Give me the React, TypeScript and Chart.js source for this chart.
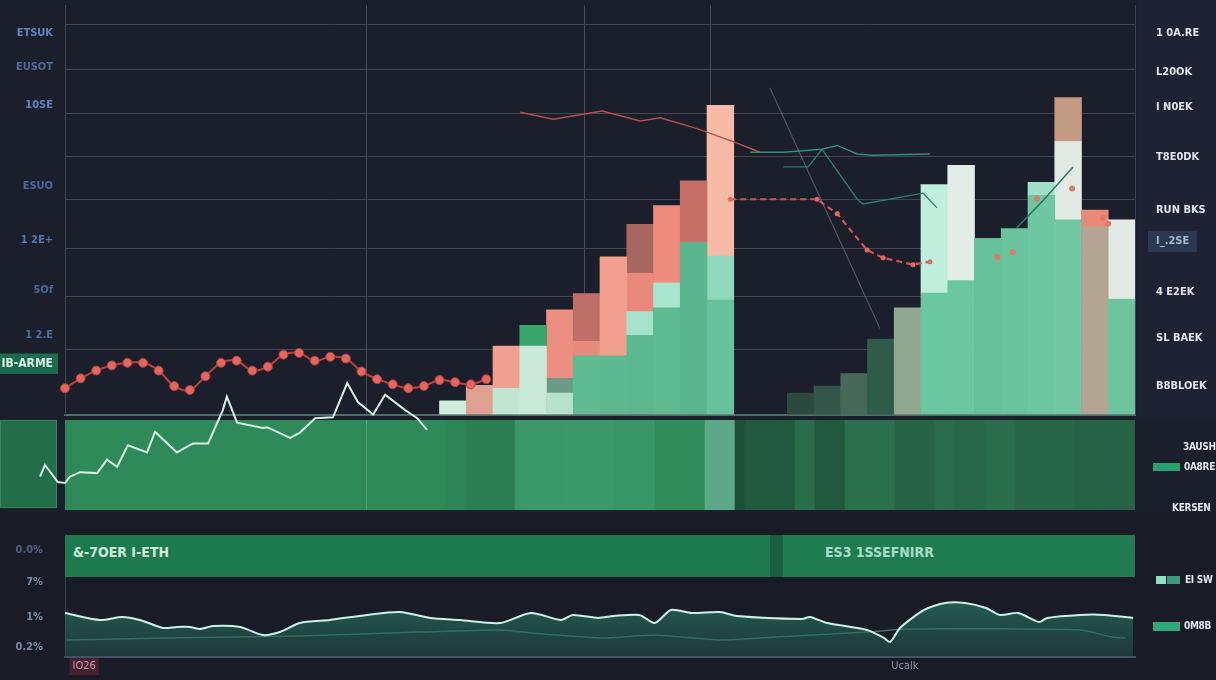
import React, { useEffect, useRef } from "react";
import { Chart, registerables } from "chart.js";
Chart.register(...registerables);

const FONT = "'Liberation Sans Narrow', 'DejaVu Sans Condensed', Roboto, 'DejaVu Sans', sans-serif";
const BG = "#1b1e2b";
const N = null;

// ---------------- top panel: stacked bars over 40 periods ----------------
const periods = Array.from({ length: 40 }, (_, i) => `P${i + 1}`);

const barBase = [N, N, N, N, N, N, N, N, N, N, N, N, N, N,
  0.32, 0.68, 0.61, 1.59, 0.5, 1.36, 1.36, 1.84, 2.48, 4.0, 2.66,
  N, N,
  0.5, 0.66, 0.95, 1.75, 2.48, 2.82, 3.11, 4.09, 4.32, 5.09, 4.52, 4.36, 2.68];
const barMid = [N, N, N, N, N, N, N, N, N, N, N, N, N, N,
  N, N, 0.98, 0.48, 0.34, 0.34, 2.3, 0.55, 0.57, 1.43, 1.02,
  N, N,
  N, N, N, N, N, 2.52, 2.68, N, N, 0.3, 1.82, 0.39, 1.84];
const barUpper = [N, N, N, N, N, N, N, N, N, N, N, N, N, N,
  N, N, N, N, 1.59, 1.11, N, 0.89, 1.8, N, 3.5,
  N, N,
  N, N, N, N, N, N, N, N, N, N, 1.02, N, N];
const barCap = [N, N, N, N, N, N, N, N, N, N, N, N, N, N,
  N, N, N, N, N, N, N, 1.14, N, N, N,
  N, N,
  N, N, N, N, N, N, N, N, N, N, N, N, N];

const baseColors: Record<number, string> = {
  14: "#cdeedd", 15: "#dea192", 16: "#c2e5d2", 17: "#c9e9d7", 18: "#b7e1cd", 19: "#5ebb92",
  20: "#5dba90", 21: "#5cb88f", 22: "#5dba91", 23: "#5ab48d", 24: "#67c19b",
  27: "#2b493f", 28: "#34564a", 29: "#47695a", 30: "#2e5c49", 31: "#92a78f", 32: "#6bc7a1",
  33: "#6cc6a0", 34: "#66c19a", 35: "#69c49e", 36: "#6dc7a1", 37: "#71c8a3", 38: "#b3a494", 39: "#6dc5a0",
};
const midColors: Record<number, string> = {
  16: "#f0a090", 17: "#3ba66b", 18: "#6b9a88", 19: "#e58b7d", 20: "#f29f8e", 21: "#a6e3cd",
  22: "#a8e5cf", 23: "#c66f67", 24: "#8fd8bd", 32: "#c0eedd", 33: "#e3ede8", 36: "#a0e0c8",
  37: "#e2eae6", 38: "#e88a78", 39: "#e4ebe7",
};
const upperColors: Record<number, string> = {
  18: "#ec8e80", 19: "#bf6f68", 21: "#e8897b", 22: "#ee8c7e", 24: "#f6baa6", 37: "#c49a82",
};
const capColors: Record<number, string> = { 21: "#a76660" };

// lines in the top panel (time axis 0..240)
const redDotStart = 0;
const redDotStep = 3.5;
const redDots = [0.61, 0.84, 1.02, 1.14, 1.2, 1.2, 1.02, 0.66, 0.57, 0.89, 1.2, 1.25, 1.02, 1.11,
  1.39, 1.43, 1.25, 1.34, 1.3, 1.0, 0.82, 0.7, 0.61, 0.66, 0.8, 0.75, 0.7, 0.82];

const topRedTimes = [102.1, 109.5, 120.5, 129.0, 133.5, 141.8, 150.3, 155.9];
const topRedValues = [7.02, 6.86, 7.05, 6.82, 6.89, 6.64, 6.32, 6.09];

const tealTimes = [153.7, 161.1, 169.8, 173.2, 177.7, 181.2, 194.0];
const tealValues = [6.09, 6.09, 6.16, 6.25, 6.05, 6.02, 6.05];

const tealBranchTimes = [161.1, 166.7, 169.8, 177.7, 179.0, 192.5, 195.6];
const tealBranchValues = [5.75, 5.75, 6.16, 5.0, 4.89, 5.14, 4.8];

const dashTimes = [149.2, 168.7, 173.2, 179.9, 183.5, 190.2, 194.0];
const dashValues = [5.0, 5.0, 4.66, 3.82, 3.64, 3.48, 3.55];

const diagTimes = [158.1, 182.8];
const diagValues = [7.59, 2.0];

const rightLineTimes = [213.5, 219.2, 223.2, 226.1];
const rightLineValues = [4.34, 4.95, 5.41, 5.75];

const rightMarkTimes = [209.1, 212.6, 218.0, 225.9, 232.8, 234.0];
const rightMarkValues = [3.66, 3.77, 5.02, 5.25, 4.57, 4.43];

// axis text of the top panel
const leftTickValues = [8.86, 8.07, 7.18, 5.3, 4.05, 2.89, 1.84, 1.18];
const leftTickLabels = ["ETSUK", "EUSOT", "10SE", "ESUO", "1 2E+", "5Of", "1 2.E", "IB-ARME"];
const rightTickValues = [8.86, 7.95, 7.14, 5.98, 4.75, 4.02, 2.84, 1.77, 0.66];
const rightTickLabels = ["1 0A.RE", "L20OK", "I N0EK", "T8E0DK", "RUN BKS", "I_.2SE", "4 E2EK", "SL BAEK", "B8BLOEK"];
const hGridValues = [9.05, 8.02, 7.0, 6.0, 5.0, 3.86, 2.73, 1.5];
const vGridTimes = [67.7, 116.6, 144.7];

// ---------------- middle: heat strip + zig-zag ----------------
const bandLevels = [
  0.5, 0.5, 0.5, 0.5, 0.5, 0.5, 0.5, 0.5, 0.5, 0.5,
  0.5, 0.5, 0.5, 0.5, 0.5, 0.5, 0.5, 0.5, 0.5, 0.5,
  0.5, 0.5, 0.5, 0.5, 0.5, 0.5, 0.5, 0.5, 0.5, 0.5,
  0.5, 0.5, 0.5, 0.5, 0.5, 0.5, 0.5, 0.5, 0.46, 0.46,
  0.4, 0.4, 0.4, 0.4, 0.4, 0.64, 0.64, 0.64, 0.64, 0.64,
  0.66, 0.66, 0.66, 0.66, 0.66, 0.62, 0.62, 0.62, 0.62, 0.52,
  0.52, 0.52, 0.52, 0.52, 1, 1, 1, 0, 0.08, 0.08,
  0.08, 0.08, 0.08, 0.26, 0.26, 0.08, 0.08, 0.08, 0.28, 0.28,
  0.28, 0.28, 0.28, 0.18, 0.18, 0.18, 0.18, 0.24, 0.24, 0.22,
  0.22, 0.22, 0.26, 0.26, 0.26, 0.2, 0.2, 0.2, 0.2, 0.2,
  0.2, 0.16, 0.16, 0.16, 0.16, 0.16, 0.16,
];
const bandLabels = bandLevels.map((_, i) => `S${i + 1}`);
const BAND_HEIGHT = 1;

const zigTimes = [-5.6, -4.5, -1.6, 0, 1.1, 3.4, 7.2, 9.4, 11.7, 14.1, 18.4, 20.2, 25.1, 28.7, 32.1,
  35.4, 36.3, 38.6, 44.4, 45.3, 50.5, 52.7, 56.1, 60.1, 63.3, 65.7, 69.1, 71.8, 76.3, 79.0, 81.2];
const zigValues = [0.37, 0.5, 0.31, 0.3, 0.37, 0.42, 0.41, 0.56, 0.48, 0.72, 0.64, 0.87, 0.64, 0.74, 0.74,
  1.11, 1.26, 0.97, 0.91, 0.92, 0.8, 0.86, 1.02, 1.03, 1.41, 1.2, 1.06, 1.28, 1.11, 1.02, 0.89];

// ---------------- bottom: area panel ----------------
const areaTimes = [0, 7.9, 12.8, 16.8, 22, 25.1, 28, 30.3, 33.2, 39.3, 44.4, 48.2, 52.7, 59.4, 67.7, 75.1,
  81.9, 88.6, 97.6, 104.5, 111.3, 113.9, 119.6, 123.1, 128.8, 132.3, 135.9, 140.6, 146.9, 150.7, 165.3,
  167.1, 170.9, 179.9, 183.7, 185.1, 187.3, 192.7, 197.4, 201.9, 206.6, 209.7, 213.8, 218.5, 220.3,
  227.7, 233.1, 239.6];
const areaValues = [55.7, 46.8, 50.6, 46.8, 36.7, 38, 38, 35.4, 39.2, 38, 27.8, 31.6, 43, 46.8, 53.2, 57,
  49.4, 46.8, 43, 55.7, 46.8, 53.2, 49.4, 51.9, 53.2, 43, 59.5, 55.7, 57, 51.9, 48.1,
  50.6, 43, 34.2, 24.1, 19, 36.7, 59.5, 68.4, 68.4, 62, 53.2, 55.7, 44.3, 49.4,
  53.2, 53.2, 49.4];
const faintTimes = [0.4, 22.9, 52.7, 79.6, 97.6, 104.5, 120.5, 132.3, 146.9, 159.7, 179.9, 189.1, 227.7, 234.8, 237.8];
const faintValues = [21.5, 24, 26.6, 31.6, 34.2, 30.4, 24, 27.8, 21.5, 25.3, 31.6, 35.4, 34.2, 25.3, 24];

const bottomTickValues = [135.4, 94.9, 50.6, 12.7];
const bottomTickLabels = ["0.0%", "7%", "1%", "0.2%"];
const timeTickValues = [4.3, 188.4];
const timeTickLabels = ["IO26", "Ucalk"];

const TIME_MIN = 0;
const TIME_MAX = 240;

// ---------------- helpers ----------------
const pts = (times: number[], values: number[]) => times.map((t, i) => ({ x: t, y: values[i] }));
const evenPts = (start: number, step: number, values: number[]) =>
  values.map((v, i) => ({ x: start + i * step, y: v }));
const setTicks = (values: number[]) => (s: any) => {
  s.ticks = values.map((value) => ({ value }));
};
const timeRange = (s: any) => {
  s.min = TIME_MIN;
  s.max = TIME_MAX;
};
const fixAxis = (size: number, horizontal = false) => (s: any) => {
  if (horizontal) s.height = size;
  else s.width = size;
  s.paddingTop = 0;
  s.paddingBottom = 0;
  s.paddingLeft = 0;
  s.paddingRight = 0;
};
const shadeStops: [number, number[]][] = [
  [0, [28, 80, 56]], [0.2, [40, 102, 72]], [0.5, [46, 139, 89]], [0.65, [58, 152, 106]], [1, [92, 168, 136]],
];
function shade(v: number) {
  for (let i = 1; i < shadeStops.length; i++) {
    const [b, cb] = shadeStops[i];
    const [a, ca] = shadeStops[i - 1];
    if (v <= b) {
      const f = (v - a) / (b - a);
      const c = ca.map((x, k) => Math.round(x + (cb[k] - x) * f));
      return `rgb(${c[0]},${c[1]},${c[2]})`;
    }
  }
  return "rgb(92,168,136)";
}
const font = (size: number, weight: any = "bold") => ({ family: FONT, size, weight });

export default function App() {
  const aRef = useRef<HTMLCanvasElement>(null);
  const bRef = useRef<HTMLCanvasElement>(null);
  const cRef = useRef<HTMLCanvasElement>(null);

  useEffect(() => {
    const barSeg = (label: string, data: any[], colors: Record<number, string>) => ({
      type: "bar",
      label,
      data,
      xAxisID: "x",
      yAxisID: "yb",
      backgroundColor: (c: any) => colors[c.dataIndex] || "rgba(0,0,0,0)",
      borderWidth: 0,
      barPercentage: 1,
      categoryPercentage: 1,
      grouped: false,
      order: 10,
    });
    const line = (data: any[], color: string, extra: any = {}) => ({
      type: "line",
      data,
      xAxisID: "xt",
      yAxisID: "y",
      borderColor: color,
      borderWidth: 1.5,
      pointRadius: 0,
      tension: 0,
      order: 1,
      ...extra,
    });

    const chartA = new Chart(aRef.current!, {
      type: "bar",
      data: {
        labels: periods,
        datasets: [
          barSeg("base", barBase, baseColors),
          barSeg("mid", barMid, midColors),
          barSeg("upper", barUpper, upperColors),
          barSeg("cap", barCap, capColors),
          line(pts(diagTimes, diagValues), "rgba(120,130,145,0.55)", { borderWidth: 1.2 }),
          line(pts(topRedTimes, topRedValues), "#b5504b"),
          line(pts(tealTimes, tealValues), "#2f8f78"),
          line(pts(tealBranchTimes, tealBranchValues), "#2a7f6c", { borderWidth: 1.3 }),
          line(pts(dashTimes, dashValues), "#d0534f", {
            borderWidth: 2.2, borderDash: [6, 4], pointRadius: 2.5,
            pointBackgroundColor: "#e06a62", pointBorderWidth: 0,
          }),
          line(pts(rightLineTimes, rightLineValues), "#2d7a5f"),
          line(pts(rightMarkTimes, rightMarkValues), "#e07a68", {
            showLine: false, pointRadius: 3, pointBackgroundColor: "#e07a68", pointBorderWidth: 0,
          }),
          line(evenPts(redDotStart, redDotStep, redDots), "#b8443f", {
            borderWidth: 2, tension: 0.35, pointRadius: 4.5,
            pointBackgroundColor: "#e2675f", pointBorderColor: "#b0413c", pointBorderWidth: 1,
          }),
        ],
      } as any,
      options: {
        responsive: false,
        animation: false,
        devicePixelRatio: 1,
        layout: { padding: { top: 0, bottom: 2, left: 0, right: 0 } },
        plugins: { legend: { display: false }, tooltip: { enabled: false } },
        scales: {
          x: { type: "category", display: false, stacked: true },
          xt: {
            type: "linear", position: "bottom", offset: false, bounds: "data",
            afterDataLimits: timeRange,
            afterBuildTicks: setTicks(vGridTimes), afterFit: fixAxis(0, true),
            ticks: { display: false },
            grid: { offset: false, color: "rgba(165,175,195,0.32)", drawTicks: false, tickLength: 0 },
            border: { display: true, color: "#4f6d64", width: 2 },
          },
          yb: { type: "linear", display: false, stacked: true, min: 0, max: 9.5 },
          yg: {
            type: "linear", position: "left", min: 0, max: 9.5,
            afterBuildTicks: setTicks(hGridValues), afterFit: fixAxis(0),
            ticks: { display: false },
            grid: { color: "#414657", drawTicks: false, tickLength: 0 },
            border: { display: false },
          },
          y: {
            type: "linear", position: "left", min: 0, max: 9.5,
            afterBuildTicks: setTicks(leftTickValues), afterFit: fixAxis(65),
            grid: { display: false, drawTicks: false, tickLength: 0 },
            border: { display: true, color: "#3b4052" },
            ticks: {
              autoSkip: false,
              padding: 12,
              callback: (_v: any, i: number) => leftTickLabels[i],
              color: (c: any) =>
                ["#5d87c2", "#4a6b98", "#5a86c4", "#46699a", "#4f78ad", "#46699a", "#4a6fa3", "#d9f0e4"][c.index],
              font: (c: any) => font(c.index === 7 ? 12 : 11),
              showLabelBackdrop: (c: any) => c.index === 7,
              backdropColor: "#1b6b4e",
              backdropPadding: { x: 5, y: 3 },
            },
          },
          yr: {
            type: "linear", position: "right", min: 0, max: 9.5,
            afterBuildTicks: setTicks(rightTickValues), afterFit: fixAxis(81),
            grid: { display: false, drawTicks: false, tickLength: 0 },
            border: { display: true, color: "#3b4052" },
            ticks: {
              autoSkip: false,
              padding: 21,
              callback: (_v: any, i: number) => rightTickLabels[i],
              color: (c: any) => (c.index === 5 ? "#aab6cc" : "#e1e6ee"),
              font: font(11),
              showLabelBackdrop: (c: any) => c.index === 5,
              backdropColor: "#2a3850",
              backdropPadding: { x: 8, y: 4 },
            },
          },
        },
      } as any,
    });

    const chartB = new Chart(bRef.current!, {
      type: "bar",
      data: {
        labels: bandLabels,
        datasets: [
          {
            type: "bar",
            data: bandLevels.map(() => BAND_HEIGHT),
            xAxisID: "xb",
            yAxisID: "y",
            backgroundColor: (c: any) => shade(bandLevels[c.dataIndex]),
            borderWidth: 0,
            barPercentage: 1,
            categoryPercentage: 1,
            grouped: false,
            order: 5,
          },
          {
            type: "line",
            data: pts(zigTimes, zigValues),
            xAxisID: "xt",
            yAxisID: "y",
            borderColor: "#d6f1e4",
            borderWidth: 2,
            pointRadius: 0,
            tension: 0,
            clip: false,
            order: 1,
          },
        ],
      } as any,
      options: {
        responsive: false,
        animation: false,
        devicePixelRatio: 1,
        layout: { padding: { top: 50, bottom: 0, left: 65, right: 81 } },
        plugins: { legend: { display: false }, tooltip: { enabled: false } },
        scales: {
          xb: { type: "category", display: false },
          xt: {
            type: "linear", position: "bottom", offset: false, bounds: "data",
            afterDataLimits: timeRange,
            afterBuildTicks: setTicks([vGridTimes[0]]), afterFit: fixAxis(0, true),
            ticks: { display: false },
            grid: { offset: false, color: "rgba(200,235,220,0.22)", drawTicks: false, tickLength: 0, z: 1 },
            border: { display: false },
          },
          y: { type: "linear", display: false, min: 0, max: 1 },
        },
      } as any,
    });

    const chartC = new Chart(cRef.current!, {
      type: "line",
      data: {
        datasets: [
          {
            data: pts(areaTimes, areaValues),
            borderColor: "#cdf0e4",
            borderWidth: 2,
            pointRadius: 0,
            tension: 0.25,
            fill: "origin",
            backgroundColor: (ctx: any) => {
              const { chart } = ctx;
              const area = chart.chartArea;
              if (!area) return "rgba(38,110,90,0.5)";
              const g = chart.ctx.createLinearGradient(0, area.top + 55, 0, area.bottom);
              g.addColorStop(0, "rgba(40,128,102,0.7)");
              g.addColorStop(1, "rgba(40,92,84,0.45)");
              return g;
            },
          },
          {
            data: pts(faintTimes, faintValues),
            borderColor: "rgba(72,150,108,0.75)",
            borderWidth: 1.5,
            pointRadius: 0,
            tension: 0.2,
            fill: false,
          },
        ],
      } as any,
      options: {
        responsive: false,
        animation: false,
        devicePixelRatio: 1,
        layout: { padding: { top: 10, bottom: 0, left: 0, right: 81 } },
        plugins: { legend: { display: false }, tooltip: { enabled: false } },
        scales: {
          x: {
            type: "linear", position: "bottom", min: TIME_MIN, max: TIME_MAX, offset: false,
            afterBuildTicks: setTicks(timeTickValues), afterFit: fixAxis(23, true),
            grid: { display: false, drawTicks: false, tickLength: 0 },
            border: { display: true, color: "#4a4f6a", width: 2 },
            ticks: {
              autoSkip: false,
              maxRotation: 0,
              padding: 3,
              callback: (_v: any, i: number) => timeTickLabels[i],
              color: (c: any) => (c.index === 0 ? "#d890a8" : "#8d93ad"),
              font: font(11, "normal"),
              showLabelBackdrop: (c: any) => c.index === 0,
              backdropColor: "rgba(120,40,62,0.45)",
              backdropPadding: { x: 3, y: 2 },
            },
          },
          y: {
            type: "linear", position: "left", min: 0, max: 148,
            afterBuildTicks: setTicks(bottomTickValues), afterFit: fixAxis(65),
            grid: { display: false, drawTicks: false, tickLength: 0 },
            border: { display: true, color: "#2c4548" },
            ticks: {
              autoSkip: false,
              padding: 22,
              callback: (_v: any, i: number) => bottomTickLabels[i],
              color: (c: any) => (c.index === 0 ? "#4d607f" : "#7687a4"),
              font: font(11),
            },
          },
        },
      } as any,
    });

    return () => {
      chartA.destroy();
      chartB.destroy();
      chartC.destroy();
    };
  }, []);

  const txt = (extra: any) => ({
    position: "absolute" as const,
    fontFamily: FONT,
    fontWeight: "bold" as const,
    fontSize: 10,
    letterSpacing: "-0.3px",
    color: "#e4e9f0",
    whiteSpace: "nowrap" as const,
    lineHeight: "14px",
    ...extra,
  });

  return (
    <div style={{ position: "fixed", left: 0, top: 0, width: 1216, height: 680, background: BG, overflow: "hidden" }}>
      <div style={{ position: "absolute", left: 1137, top: 0, width: 79, height: 418, background: "#1e2233" }} />
      <div style={{ position: "absolute", left: 0, top: 512, width: 1216, height: 168, background: "#191c27" }} />
      <div style={{ position: "absolute", left: 0, top: 420, width: 57, height: 88, background: "#236d49", boxShadow: "inset 0 0 0 1px #2d8a5c" }} />
      <canvas ref={aRef} width={1216} height={420} style={{ position: "absolute", left: 0, top: 0, width: 1216, height: 420 }} />
      <canvas ref={bRef} width={1216} height={140} style={{ position: "absolute", left: 0, top: 370, width: 1216, height: 140 }} />
      <canvas ref={cRef} width={1216} height={150} style={{ position: "absolute", left: 0, top: 530, width: 1216, height: 150 }} />

      <div style={{ position: "absolute", left: 65, top: 535, width: 705, height: 42, background: "#1d7a4e" }} />
      <div style={{ position: "absolute", left: 770, top: 535, width: 13, height: 42, background: "#18603f" }} />
      <div style={{ position: "absolute", left: 783, top: 535, width: 352, height: 42, background: "#1f7c50" }} />
      <div style={txt({ left: 73, top: 543, fontSize: 14, letterSpacing: "0px", lineHeight: "18px", color: "#cfe8da" })}>&amp;-7OER I-ETH</div>
      <div style={txt({ left: 825, top: 543, fontSize: 14, letterSpacing: "0px", lineHeight: "18px", color: "#a9dcc6" })}>ES3 1SSEFNIRR</div>

      <div style={txt({ left: 1183, top: 440 })}>3AUSH</div>
      <div style={{ position: "absolute", left: 1153, top: 463, width: 27, height: 8, background: "#27a06b" }} />
      <div style={txt({ left: 1184, top: 460 })}>0A8RE</div>
      <div style={txt({ left: 1172, top: 501 })}>KERSEN</div>
      <div style={{ position: "absolute", left: 1156, top: 576, width: 10, height: 8, background: "#8fe0c4" }} />
      <div style={{ position: "absolute", left: 1167, top: 576, width: 13, height: 8, background: "#3d9a80" }} />
      <div style={txt({ left: 1185, top: 573 })}>EI SW</div>
      <div style={{ position: "absolute", left: 1153, top: 622, width: 27, height: 9, background: "#2fa878" }} />
      <div style={txt({ left: 1184, top: 619 })}>0M8B</div>
    </div>
  );
}
